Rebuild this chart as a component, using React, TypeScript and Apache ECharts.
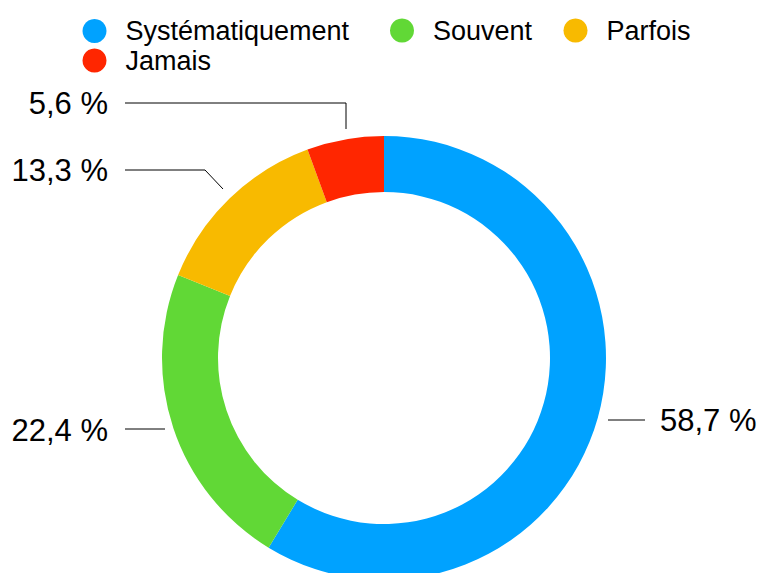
import React, { useEffect, useRef } from "react";
import * as echarts from "echarts";

const categories = ["Systématiquement", "Souvent", "Parfois", "Jamais"];
const values = [58.7, 22.4, 13.3, 5.6];
const colors = ["#00A2FF", "#61D836", "#F8BA00", "#FF2600"];

// label placement (style only)
const labelPos = [
  { x: 660, y: 420, align: "left", line: [[608, 420], [626, 420], [645, 420]] },
  { x: 108, y: 430, align: "right", line: [[125, 429], [145, 429], [165, 429]] },
  { x: 108, y: 170, align: "right", line: [[125, 170], [205, 170], [223, 189]] },
  { x: 108, y: 103, align: "right", line: [[125, 103], [346, 103], [346, 129]] },
];
const legendPos = [
  { left: 82.5, top: 17.5 },
  { left: 390, top: 17 },
  { left: 563.5, top: 17 },
  { left: 82.5, top: 47 },
];

const FONT = "'Liberation Sans', Helvetica, Arial, sans-serif";

export default function App() {
  const ref = useRef<HTMLDivElement>(null);
  useEffect(() => {
    if (!ref.current) return;
    const chart = echarts.init(ref.current, undefined, { renderer: "svg" });
    chart.setOption({
      animation: false,
      backgroundColor: "#ffffff",
      color: colors,
      legend: categories.map((c, i) => ({
        data: [c],
        left: legendPos[i].left,
        top: legendPos[i].top,
        padding: 0,
        icon: "circle",
        itemWidth: 24,
        itemHeight: 24,
        selectedMode: false,
        textStyle: {
          fontFamily: FONT,
          fontSize: 27,
          color: "#000",
          lineHeight: 24,
          padding: [0, 0, 0, 14],
        },
      })),
      series: [
        {
          type: "pie",
          center: [384, 358],
          radius: [166, 222],
          startAngle: 90,
          clockwise: true,
          avoidLabelOverlap: false,
          itemStyle: { borderWidth: 0 },
          label: {
            show: true,
            fontFamily: FONT,
            fontSize: 31,
            color: "#000",
            formatter: (p: any) => p.value.toFixed(1).replace(".", ",") + " %",
          },
          labelLine: { show: true, lineStyle: { color: "#000", width: 1 } },
          labelLayout: (params: any) => {
            const lp = labelPos[params.dataIndex];
            return {
              x: lp.x,
              y: lp.y,
              align: lp.align,
              verticalAlign: "middle",
              labelLinePoints: lp.line,
            };
          },
          emphasis: { disabled: true },
          data: categories.map((c, i) => ({ name: c, value: values[i] })),
        },
      ],
    });
    return () => chart.dispose();
  }, []);
  return (
    <div
      ref={ref}
      style={{ position: "absolute", left: 0, top: 0, width: 761, height: 573 }}
    />
  );
}
